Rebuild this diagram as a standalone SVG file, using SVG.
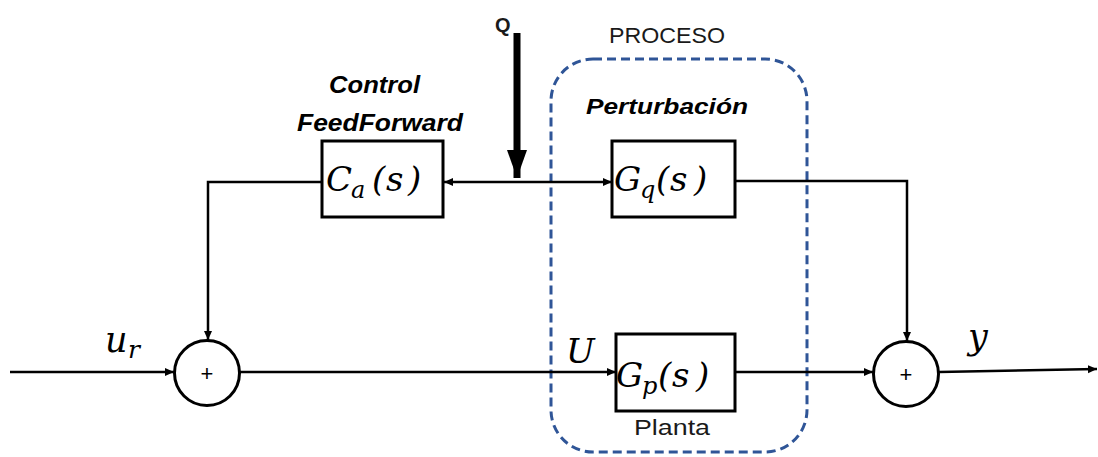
<svg xmlns="http://www.w3.org/2000/svg" width="1098" height="457" viewBox="0 0 1098 457">
<style>
.blk{fill:#fff;stroke:#000;stroke-width:3}
.sum{fill:#fff;stroke:#000;stroke-width:3}
.ln{fill:none;stroke:#000;stroke-width:2.5}
.math{font-family:"DejaVu Serif","Liberation Serif",serif;font-style:italic;fill:#000}
.lbl{font-family:"Liberation Sans","Open Sans",sans-serif;fill:#1a1a1a}
.bi{font-family:"Liberation Sans","Open Sans",sans-serif;font-weight:bold;font-style:italic;fill:#000}
.plus{font-family:"Liberation Sans",sans-serif;font-size:22px;fill:#000;text-anchor:middle}
</style>
<defs>
<marker id="ah" markerUnits="userSpaceOnUse" markerWidth="10" markerHeight="10" refX="9" refY="5" orient="auto">
<path d="M0,1 L9,5 L0,9 Z" fill="#000"/>
</marker>
<marker id="big" markerUnits="userSpaceOnUse" markerWidth="30" markerHeight="22" refX="28" refY="10" orient="auto">
<path d="M0,0 L28,10 L0,20 Z" fill="#000"/>
</marker>
</defs>

<g id="proceso">
<rect x="551" y="59" width="256" height="393" rx="42" ry="42" fill="none" stroke="#2F5597" stroke-width="3" stroke-dasharray="9,5"/>
<text class="lbl" x="609" y="43" font-size="22" textLength="116" lengthAdjust="spacingAndGlyphs">PROCESO</text>
</g>

<g id="connectors">
<line class="ln" x1="10" y1="372" x2="174" y2="372" marker-end="url(#ah)"/>
<line class="ln" x1="240" y1="372" x2="616" y2="372" marker-end="url(#ah)"/>
<line class="ln" x1="735" y1="372" x2="873" y2="372" marker-end="url(#ah)"/>
<line class="ln" x1="939" y1="372" x2="1097" y2="369" marker-end="url(#ah)"/>
<polyline class="ln" points="322,182 208,182 208,340" marker-end="url(#ah)"/>
<polyline class="ln" points="735,181 907,181 907,341" marker-end="url(#ah)"/>
<line class="ln" x1="517" y1="182" x2="444" y2="182" marker-end="url(#ah)"/>
<line class="ln" x1="517" y1="182" x2="612" y2="182" marker-end="url(#ah)"/>
<line x1="517" y1="33" x2="517" y2="178" stroke="#000" stroke-width="7" marker-end="url(#big)"/>
</g>

<g id="Q">
<text class="lbl" x="495" y="32" font-size="20" font-weight="bold" fill="#000">Q</text>
</g>

<g id="Ca">
<rect class="blk" x="322" y="141" width="121" height="76"/>
<text class="math" font-size="34" y="191"><tspan x="326">C</tspan><tspan x="351" y="198" font-size="24">a</tspan><tspan x="372" y="191">(</tspan><tspan x="386">s</tspan><tspan x="408">)</tspan></text>
<text class="bi" x="329" y="93" font-size="24" textLength="91" lengthAdjust="spacingAndGlyphs">Control</text>
<text class="bi" x="297" y="131" font-size="24" textLength="166" lengthAdjust="spacingAndGlyphs">FeedForward</text>
</g>

<g id="Gq">
<rect class="blk" x="612" y="141" width="123" height="76"/>
<text class="math" font-size="34" y="191"><tspan x="614">G</tspan><tspan x="640" y="198" font-size="24">q</tspan><tspan x="656" y="191">(</tspan><tspan x="670">s</tspan><tspan x="694">)</tspan></text>
<text class="bi" x="586" y="114" font-size="22" textLength="162" lengthAdjust="spacingAndGlyphs">Perturbación</text>
</g>

<g id="Gp">
<rect class="blk" x="616" y="334" width="119" height="77"/>
<text class="math" font-size="34" y="387"><tspan x="616">G</tspan><tspan x="642" y="394" font-size="24">p</tspan><tspan x="658" y="387">(</tspan><tspan x="672">s</tspan><tspan x="696">)</tspan></text>
<text class="lbl" x="634" y="435" font-size="22" textLength="76" lengthAdjust="spacingAndGlyphs">Planta</text>
</g>

<g id="sum1">
<circle class="sum" cx="207" cy="373" r="32.5"/>
<text class="plus" x="207" y="381">+</text>
</g>

<g id="sum2">
<circle class="sum" cx="906" cy="374" r="32.5"/>
<text class="plus" x="906" y="382">+</text>
</g>

<g id="labels">
<text class="math" font-size="35" y="352"><tspan x="105">u</tspan><tspan x="128" y="358" font-size="25">r</tspan></text>
<text class="math" x="566" y="363" font-size="34">U</text>
<text class="math" x="968" y="349" font-size="35">y</text>
</g>
</svg>
